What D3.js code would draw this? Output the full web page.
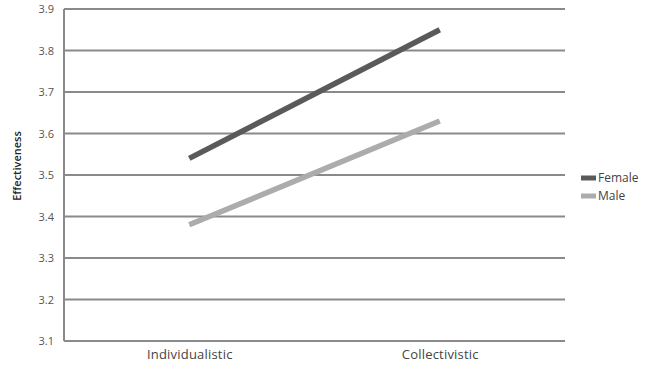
<!DOCTYPE html>
<html><head><meta charset="utf-8">
<script src="https://cdn.jsdelivr.net/npm/d3@7"></script>
<style>body{margin:0;background:#fff;} text{font-family:"Open Sans","DejaVu Sans",sans-serif;}</style>
</head><body><svg id="c" width="660" height="368"></svg>
<script>
const categories = ["Individualistic", "Collectivistic"];
const femaleValues = [3.54, 3.85];
const maleValues = [3.38, 3.63];
const seriesNames = ["Female", "Male"];
const yTicks = [3.1, 3.2, 3.3, 3.4, 3.5, 3.6, 3.7, 3.8, 3.9];

const series = [
  {name: seriesNames[0], values: femaleValues, color: "#5a5a5a"},
  {name: seriesNames[1], values: maleValues, color: "#acacac"}
];
const svg = d3.select("#c");
const m = {l: 64, r: 95, t: 9, b: 27};
const W = 660, H = 368;
const x = d3.scalePoint().domain(categories).range([m.l, W - m.r]).padding(0.5);
const y = d3.scaleLinear().domain([3.1, 3.9]).range([H - m.b, m.t]);

// gridlines
svg.append("g").selectAll("line").data(yTicks).join("line")
  .attr("x1", m.l).attr("x2", W - m.r)
  .attr("y1", d => y(d)).attr("y2", d => y(d))
  .attr("stroke", "#8a8a8a").attr("stroke-width", 2);
// y axis line
svg.append("line").attr("x1", m.l).attr("x2", m.l).attr("y1", y(3.9)).attr("y2", y(3.1))
  .attr("stroke", "#8a8a8a").attr("stroke-width", 2);

// y tick labels
const yAxis = d3.axisLeft(y).tickValues(yTicks).tickFormat(d3.format(".1f")).tickSize(0).tickPadding(10);
const ga = svg.append("g").attr("transform", `translate(${m.l},0)`).call(yAxis);
ga.select(".domain").remove();
ga.selectAll("text").attr("fill", "#555").style("font-size", "11px");

// x labels
const xAxis = d3.axisBottom(x).tickSize(0).tickPadding(9);
const gx = svg.append("g").attr("transform", `translate(0,${H - m.b})`).call(xAxis);
gx.select(".domain").remove();
gx.selectAll("text").attr("fill", "#444").style("font-size", "13px").style("letter-spacing", "0.2px");

// lines
const line = d3.line().x((d, i) => x(categories[i])).y(d => y(d));
svg.append("g").selectAll("path").data(series).join("path")
  .attr("d", d => line(d.values)).attr("fill", "none")
  .attr("stroke", d => d.color).attr("stroke-width", 5.5);

// y title
svg.append("text").attr("transform", "translate(21,166) rotate(-90)")
  .attr("text-anchor", "middle").attr("fill", "#222").style("font-size", "11px").style("font-weight", "600").text("Effectiveness");

// legend
const lg = svg.append("g").attr("transform", "translate(581,178)");
const li = lg.selectAll("g").data(series).join("g").attr("transform", (d, i) => `translate(0,${i * 18})`);
li.append("line").attr("x1", 0).attr("x2", 15).attr("stroke", d => d.color).attr("stroke-width", 5);
li.append("text").attr("x", 17).attr("dy", "0.35em").attr("fill", "#444").style("font-size", "12px").text(d => d.name);
</script></body></html>
